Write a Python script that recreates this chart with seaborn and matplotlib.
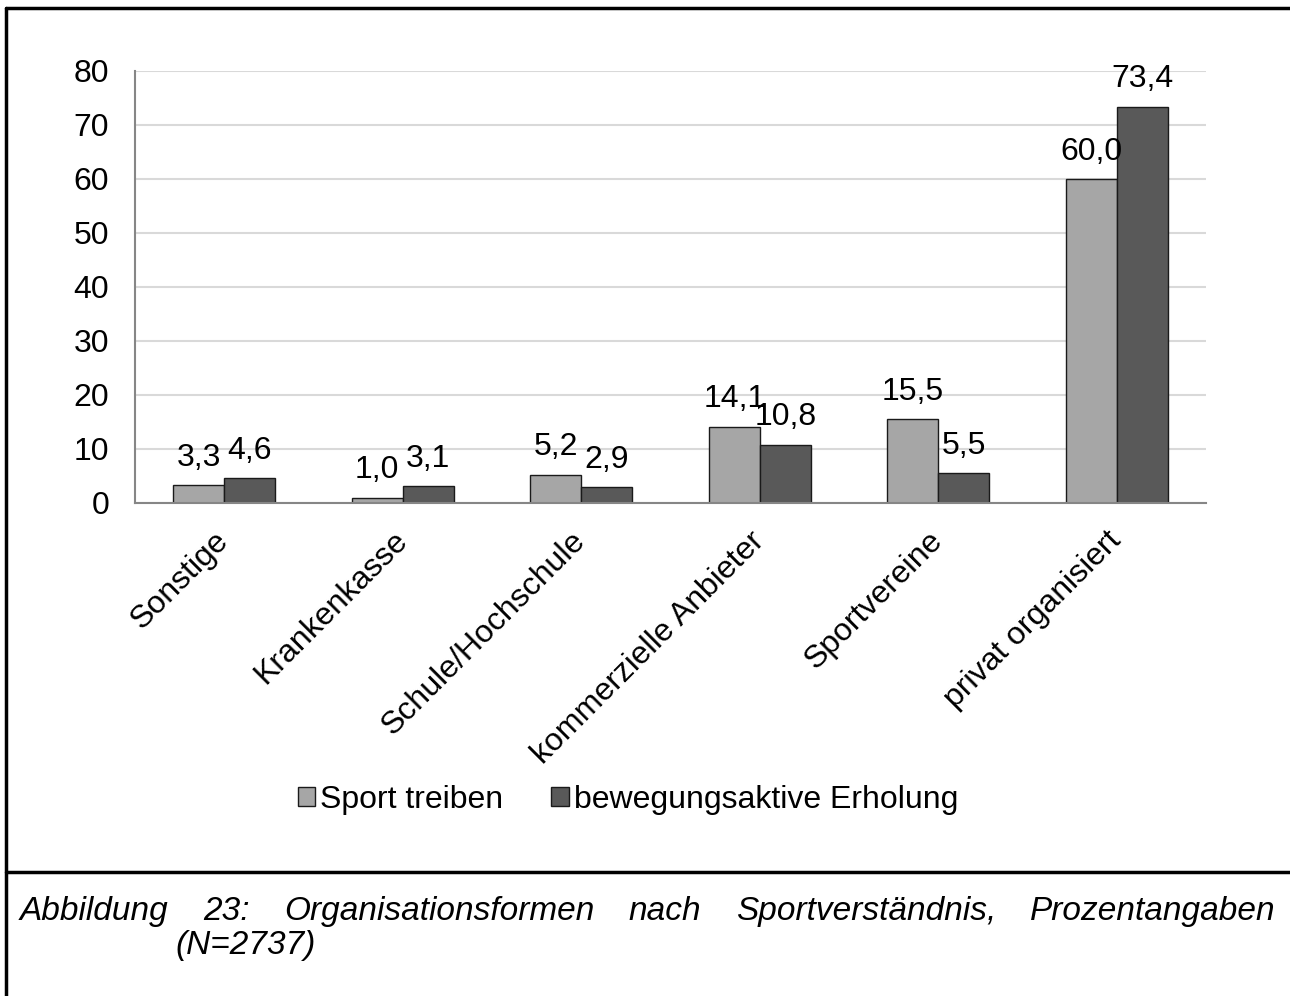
import numpy as np
import pandas as pd
import matplotlib
matplotlib.use('Agg')
import matplotlib.pyplot as plt
from matplotlib.lines import Line2D
import seaborn as sns

categories = ['Sonstige', 'Krankenkasse', 'Schule/Hochschule',
              'kommerzielle Anbieter', 'Sportvereine', 'privat organisiert']
series_names = ['Sport treiben', 'bewegungsaktive Erholung']
sport_treiben = [3.3, 1.0, 5.2, 14.1, 15.5, 60.0]
erholung = [4.6, 3.1, 2.9, 10.8, 5.5, 73.4]
colors = ['#A6A6A6', '#595959']
y_ticks = [0, 10, 20, 30, 40, 50, 60, 70, 80]
caption_words = ['Abbildung', '23:', 'Organisationsformen', 'nach',
                 'Sportverständnis,', 'Prozentangaben']
caption_line2 = '(N=2737)'

sns.set_style('white')
plt.rcParams['font.family'] = ['Liberation Sans', 'DejaVu Sans']
plt.rcParams['text.color'] = 'black'
plt.rcParams['xtick.color'] = 'black'
plt.rcParams['ytick.color'] = 'black'

df = pd.DataFrame({
    'Kategorie': categories * 2,
    'Serie': [series_names[0]] * len(categories) + [series_names[1]] * len(categories),
    'Wert': sport_treiben + erholung,
})

W, H = 1290, 996
fs = 23
fig = plt.figure(figsize=(W / 100, H / 100), dpi=100)
ax = fig.add_axes([135 / W, 1 - 503 / H, (1206 - 135) / W, (503 - 71) / H])

sns.barplot(data=df, x='Kategorie', y='Wert', hue='Serie', order=categories,
            hue_order=series_names, palette=colors, width=2 / 3.5, gap=0,
            edgecolor='#1a1a1a', linewidth=1.0, saturation=1, ax=ax)

for cont, vals in zip(ax.containers, [sport_treiben, erholung]):
    ax.bar_label(cont, labels=[f'{v:.1f}'.replace('.', ',') for v in vals],
                 padding=9, fontsize=fs)

ax.set_ylim(0, 80)
ax.set_xlim(-0.5, len(categories) - 0.5)
ax.set_yticks(y_ticks)
ax.set_yticklabels([str(t) for t in y_ticks], fontsize=fs)
ax.yaxis.grid(True, color='#D9D9D9', linewidth=1.5)
ax.set_axisbelow(True)
ax.set_xlabel('')
ax.set_ylabel('')

ax.set_xticks(range(len(categories)))
ax.set_xticklabels(categories, fontsize=fs, rotation=45, ha='right',
                   va='center', rotation_mode='anchor')
ax.set_xticks(np.arange(-0.5, len(categories), 1), minor=True)
ax.tick_params(axis='x', which='major', length=0, pad=24)
ax.tick_params(axis='x', which='minor', length=6.5, width=1.5, color='#868686', direction='out')
ax.tick_params(axis='y', length=6.5, width=1.5, color='#868686', direction='out', pad=12)

for side in ['top', 'right']:
    ax.spines[side].set_visible(False)
for side in ['left', 'bottom']:
    ax.spines[side].set_color('#868686')
    ax.spines[side].set_linewidth(1.5)

sns.move_legend(ax, loc='center', bbox_to_anchor=(628 / W, 1 - 800 / H),
                bbox_transform=fig.transFigure, ncol=2, frameon=False, title=None,
                fontsize=fs, handlelength=0.55, handleheight=0.55,
                handletextpad=0.15, columnspacing=1.5)

# frame around figure and caption separator
fig.add_artist(Line2D([6 / W, 6 / W], [0, 1 - 8 / H], color='black', linewidth=2.5,
                      transform=fig.transFigure))
fig.add_artist(Line2D([6 / W, 1], [1 - 8 / H, 1 - 8 / H], color='black', linewidth=2.5,
                      transform=fig.transFigure))
fig.add_artist(Line2D([6 / W, 1], [1 - 872 / H, 1 - 872 / H], color='black', linewidth=2.5,
                      transform=fig.transFigure))

# justified caption
fig.canvas.draw()
renderer = fig.canvas.get_renderer()
texts = [fig.text(0, 1 - 920 / H, w, fontsize=24, style='italic', ha='left',
                  va='baseline') for w in caption_words]
widths = [t.get_window_extent(renderer).width for t in texts]
left, right = 20, 1276
gap = (right - left - sum(widths)) / (len(texts) - 1)
x = left
for t, w in zip(texts, widths):
    t.set_x(x / W)
    x += w + gap
fig.text(175 / W, 1 - 954 / H, caption_line2, fontsize=24, style='italic',
         ha='left', va='baseline')

fig.savefig('out.png', dpi=100, facecolor='white')
